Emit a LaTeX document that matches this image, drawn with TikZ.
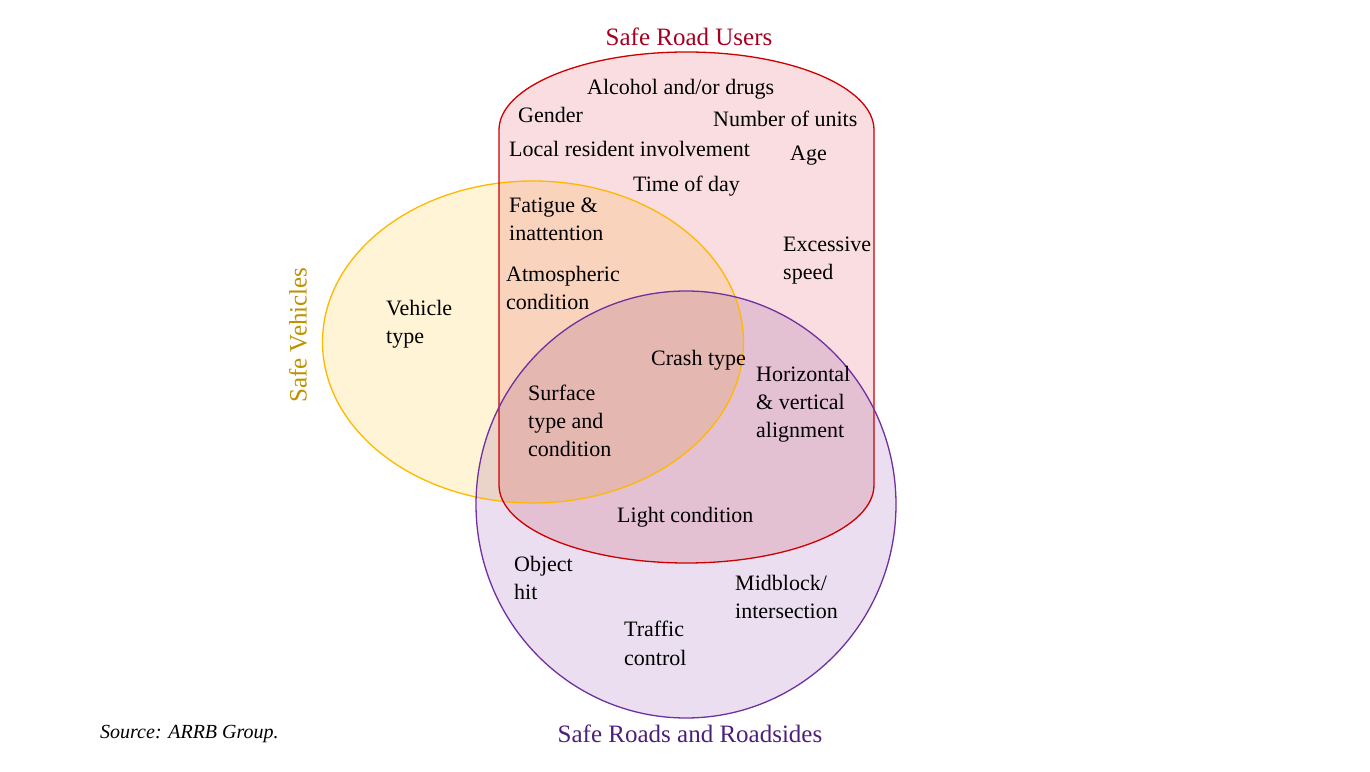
\documentclass[tikz,border=0pt]{standalone}
\usepackage{fontspec}
\setmainfont{Liberation Serif}
\definecolor{rfill}{HTML}{F9DDE1}
\definecolor{yfill}{HTML}{FFF4D6}
\definecolor{pfill}{HTML}{EADEF0}
\definecolor{rline}{HTML}{CC0000}
\definecolor{yline}{HTML}{FFB800}
\definecolor{pline}{HTML}{7030A0}
\definecolor{rtitle}{HTML}{A50021}
\definecolor{ytitle}{HTML}{BF9000}
\definecolor{ptitle}{HTML}{4E1F7A}
\begin{document}
\begin{tikzpicture}[x=1pt,y=1pt,
  lbl/.style={anchor=base west,inner sep=0pt,align=left,font=\fontsize{22}{28}\selectfont},
  ttl/.style={inner sep=0pt,font=\fontsize{25}{30}\selectfont},
  outline/.style={line width=1.3pt}]
\useasboundingbox (0,0) rectangle (1370,771);
% fills
\begin{scope}[blend group=multiply]
  \fill[rfill] (499,286) -- (499,641) arc[start angle=180,end angle=0,x radius=187.5,y radius=78]
     -- (874,286) arc[start angle=0,end angle=-180,x radius=187.5,y radius=78] -- cycle;
  \fill[yfill] (533,429) ellipse[x radius=210.5,y radius=161];
  \fill[pfill] (686,266.5) ellipse[x radius=210,y radius=213.5];
\end{scope}
% outlines
\draw[outline,yline] (533,429) ellipse[x radius=210.5,y radius=161];
\draw[outline,rline] (499,286) -- (499,641) arc[start angle=180,end angle=0,x radius=187.5,y radius=78]
     -- (874,286) arc[start angle=0,end angle=-180,x radius=187.5,y radius=78] -- cycle;
\draw[outline,pline] (686,266.5) ellipse[x radius=210,y radius=213.5];
% titles
\node[ttl,text=rtitle] (tusers) at (689,734) {Safe Road Users};
\node[ttl,text=ptitle] (troads) at (690,37) {Safe Roads and Roadsides};
\node[ttl,text=ytitle,rotate=90] (tveh) at (298,436) {Safe Vehicles};
% labels
\node[lbl] (alc) at (587,676) {Alcohol and/or drugs};
\node[lbl] (gen) at (518,648) {Gender};
\node[lbl] (num) at (713,644) {Number of units};
\node[lbl] (loc) at (509,614) {Local resident involvement};
\node[lbl] (age) at (790,610) {Age};
\node[lbl] (tod) at (633,579) {Time of day};
\node[lbl] (fat) at (509,530) {Fatigue \&\\inattention};
\node[lbl] (exc) at (783,491) {Excessive\\speed};
\node[lbl] (atm) at (506,461) {Atmospheric\\condition};
\node[lbl] (veh) at (386,427) {Vehicle\\type};
\node[lbl] (cra) at (651,405) {Crash type};
\node[lbl] (hor) at (756,333) {Horizontal\\\& vertical\\alignment};
\node[lbl] (sur) at (528,314) {Surface\\type and\\condition};
\node[lbl] (lig) at (617,248) {Light condition};
\node[lbl] (obj) at (514,171) {Object\\hit};
\node[lbl] (mid) at (735,152) {Midblock/\\intersection};
\node[lbl] (tra) at (624,106) {Traffic\\control};
\node[anchor=base west,inner sep=0pt,font=\fontsize{20}{24}\selectfont\itshape] (src) at (100,33) {Source: ARRB Group.};
\end{tikzpicture}
\end{document}
